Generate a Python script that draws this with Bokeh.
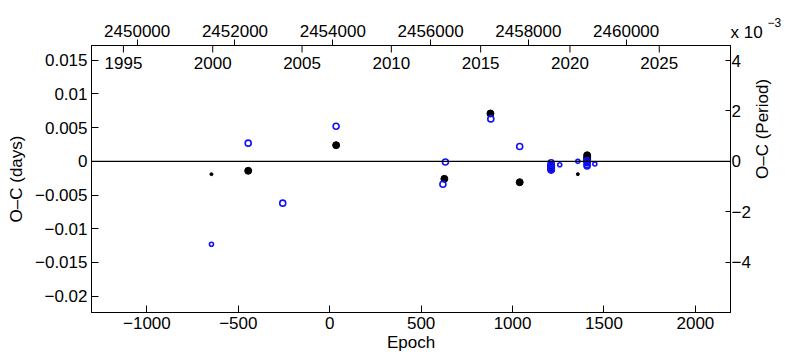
import math
from bokeh.plotting import figure
from bokeh.models import Range1d, LinearAxis, FixedTicker, Span, Label
from bokeh.core.properties import value
from bokeh.embed import file_html
from bokeh.resources import INLINE

# ---- data ----
black_epoch = [-647, -446, 35, 627, 879, 1039, 1211, 1211, 1211, 1357, 1408, 1408, 1408, 1408]
black_oc = [-0.0019, -0.0014, 0.0024, -0.0026, 0.0071, -0.0031, -0.0006, -0.0009, -0.0012,
            -0.0019, 0.0009, 0.0006, 0.0003, 0.0000]
black_sizes = [3, 7, 7, 7, 7, 7, 7, 7, 7, 3, 7, 7, 7, 7]

blue_epoch = [-647, -446, -257, 35, 619, 633, 881, 1039, 1211, 1211, 1211, 1211, 1211,
              1258, 1357, 1408, 1408, 1408, 1408, 1450]
blue_oc = [-0.0123, 0.0027, -0.0062, 0.0052, -0.0034, -0.0001, 0.0063, 0.0022, -0.0002,
           -0.0005, -0.0008, -0.0011, -0.0013, -0.0005, 0.0000, 0.0001, -0.0002, -0.0005,
           -0.0007, -0.0004]
blue_sizes = [4, 6, 6, 6, 6, 6, 6, 6, 6, 6, 6, 6, 6, 4, 4, 6, 6, 6, 6, 4]

epoch_ticks = [-1000, -500, 0, 500, 1000, 1500, 2000]
epoch_labels = ["\u22121000", "\u2212500", "0", "500", "1000", "1500", "2000"]
oc_ticks = [-0.02, -0.015, -0.01, -0.005, 0, 0.005, 0.01, 0.015]
oc_labels = ["\u22120.02", "\u22120.015", "\u22120.01", "\u22120.005", "0", "0.005", "0.01", "0.015"]
per_ticks = [-6, -4, -2, 0, 2, 4]
per_labels = ["\u22126", "\u22124", "\u22122", "0", "2", "4"]
jd_ticks = [2450000, 2452000, 2454000, 2456000, 2458000, 2460000]
jd_labels = [str(t) for t in jd_ticks]
years = [1995, 2000, 2005, 2010, 2015, 2020, 2025]
year_labels = [str(y) for y in years]

PERIOD = 3.7388  # days
X_RANGE = (-1303, 2192)
Y_RANGE = (-0.02243, 0.01719)
JD_RANGE = (2449066, 2462133)
YEAR_RANGE = (2000 + (JD_RANGE[0] - 2451545) / 365.25, 2000 + (JD_RANGE[1] - 2451545) / 365.25)
PER_RANGE = (Y_RANGE[0] / PERIOD * 1000, Y_RANGE[1] / PERIOD * 1000)

FONT = "Liberation Sans"
FS = "17px"
SHIFT = 21                      # canvas is raised by this much so the frame top lands at 45 px
W, H = 790, 362 + SHIFT
BL, BR, BT, BB = 91, 60, 45 + SHIFT, 50
FW, FH = W - BL - BR, H - BT - BB

p = figure(width=W, height=H, output_backend="svg", toolbar_location=None,
           x_range=Range1d(*X_RANGE), y_range=Range1d(*Y_RANGE),
           min_border_left=BL, min_border_right=BR, min_border_top=BT, min_border_bottom=BB)
p.styles = {"margin-top": f"-{SHIFT}px"}
p.xgrid.visible = False
p.ygrid.visible = False
p.outline_line_color = "black"
p.outline_line_width = 1
p.background_fill_color = "white"
p.border_fill_color = "white"

p.extra_x_ranges = {"jd": Range1d(*JD_RANGE), "yr": Range1d(*YEAR_RANGE)}
p.extra_y_ranges = {"per": Range1d(*PER_RANGE)}


def style(ax, ticks, labels, tin, tout, standoff):
    ax.ticker = FixedTicker(ticks=ticks)
    ax.major_label_overrides = dict(zip(ticks, labels))
    ax.major_tick_in = tin
    ax.major_tick_out = tout
    ax.minor_tick_line_color = None
    ax.major_tick_line_color = "black"
    ax.axis_line_color = "black"
    ax.major_label_text_font = FONT
    ax.major_label_text_font_size = FS
    ax.major_label_text_color = "black"
    ax.major_label_standoff = standoff
    ax.axis_label_text_font = FONT
    ax.axis_label_text_font_size = FS
    ax.axis_label_text_font_style = "normal"
    ax.axis_label_text_color = "black"


xb = p.xaxis[0]
style(xb, epoch_ticks, epoch_labels, 7, 0, 4)
xb.axis_label = "Epoch"
xb.axis_label_standoff = 1

yl = p.yaxis[0]
style(yl, oc_ticks, oc_labels, 7, 0, 4)
yl.axis_label = "O\u2013C (days)"
yl.axis_label_standoff = 6

top = LinearAxis(x_range_name="jd")
style(top, jd_ticks, jd_labels, 0, 6, 3)
p.add_layout(top, "above")

right = LinearAxis(y_range_name="per")
style(right, per_ticks, per_labels, 5, 0, 1)
right.axis_label = "O\u2013C (Period)"
right.axis_label_standoff = 9
if "axis_label_orientation" in right.properties():
    right.axis_label_orientation = math.pi / 2
p.add_layout(right, "right")

# year scale drawn inside the frame along its top edge
tick_len = (Y_RANGE[1] - Y_RANGE[0]) / FH * 7
p.segment(x0=years, y0=[Y_RANGE[1]] * len(years), x1=years, y1=[Y_RANGE[1] - tick_len] * len(years),
          x_range_name="yr", line_color="black", line_width=1)
p.text(x=years, y=[Y_RANGE[1]] * len(years), text=year_labels, x_range_name="yr",
       text_align="center", text_baseline="top", y_offset=11,
       text_font=value(FONT), text_font_size=FS, text_color="black")

p.add_layout(Span(location=0, dimension="width", line_color="black", line_width=1.3))

p.scatter(black_epoch, black_oc, size=black_sizes, fill_color="black", line_color="black")
p.scatter(blue_epoch, blue_oc, size=blue_sizes, fill_color=None, line_color="#1010ff", line_width=1.6)

# multiplier note above the right axis, placed in the top side panel so it is not clipped
p.add_layout(Label(x=X_RANGE[1], y=Y_RANGE[1], text="x 10", x_offset=0, y_offset=13,
                   text_font=FONT, text_font_size=FS, text_color="black",
                   text_baseline="alphabetic"), "above")
p.add_layout(Label(x=X_RANGE[1], y=Y_RANGE[1], text="\u22123", x_offset=37, y_offset=23,
                   text_font=FONT, text_font_size="12px", text_color="black",
                   text_baseline="alphabetic"), "above")

open("out.html", "w").write(file_html(p, INLINE))
